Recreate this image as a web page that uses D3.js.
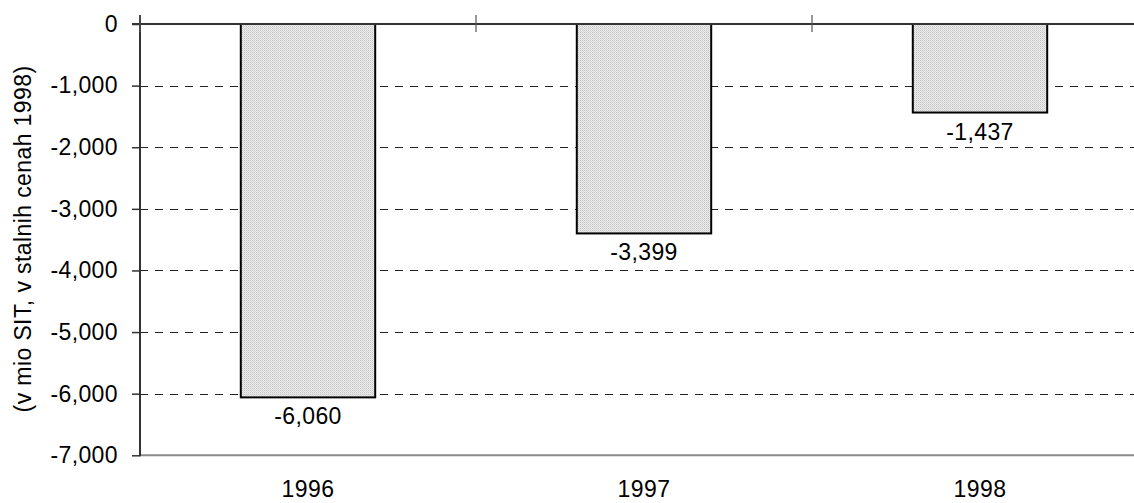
<!DOCTYPE html>
<html>
<head>
<meta charset="utf-8">
<script src="https://cdn.jsdelivr.net/npm/d3@7/dist/d3.min.js"></script>
<style>
  html, body { margin: 0; padding: 0; background: #fff; }
  svg { display: block; }
  text { font-family: "Liberation Sans", Arial, Helvetica, sans-serif; fill: #000; }
</style>
</head>
<body>
<svg id="chart" width="1134" height="503"></svg>
<script>
// ---- data ----
const categories = ["1996", "1997", "1998"];
const values = [-6060, -3399, -1437];
const valueLabels = ["-6,060", "-3,399", "-1,437"];
const yTicks = [0, -1000, -2000, -3000, -4000, -5000, -6000, -7000];
const yTitle = "(v mio SIT, v stalnih cenah 1998)";

// ---- layout ----
const W = 1134, H = 503;
const plotLeft = 140, plotRight = 1148, yTop = 24, yBottom = 455.3;
const fontSize = 23;

const svg = d3.select("#chart");

const defs = svg.append("defs");
const pat = defs.append("pattern")
  .attr("id", "stipple").attr("patternUnits", "userSpaceOnUse")
  .attr("width", 2).attr("height", 2);
pat.append("rect").attr("width", 2).attr("height", 2).attr("fill", "#ececec");
pat.append("rect").attr("x", 0).attr("y", 0).attr("width", 1).attr("height", 1).attr("fill", "#c4c4c4");
pat.append("rect").attr("x", 1).attr("y", 1).attr("width", 1).attr("height", 1).attr("fill", "#d6d6d6");

const x = d3.scaleBand().domain(categories).range([plotLeft, plotRight])
  .paddingInner(0.6).paddingOuter(0.3);
const y = d3.scaleLinear().domain([0, -7000]).range([yTop, yBottom]);

// gridlines (dashed)
svg.append("g").selectAll("line")
  .data(yTicks.filter(t => t !== 0 && t !== -7000))
  .join("line")
  .attr("x1", plotLeft).attr("x2", W)
  .attr("y1", d => Math.round(y(d)) + 0.5).attr("y2", d => Math.round(y(d)) + 0.5)
  .attr("stroke", "#222").attr("stroke-width", 1)
  .attr("stroke-dasharray", "8,7");

// bottom plot border
svg.append("line")
  .attr("x1", plotLeft).attr("x2", W)
  .attr("y1", y(-7000)).attr("y2", y(-7000))
  .attr("stroke", "#8a8a8a").attr("stroke-width", 2);

// bars
svg.append("g").selectAll("rect")
  .data(values)
  .join("rect")
  .attr("x", (d, i) => x(categories[i]))
  .attr("y", d => y(Math.max(0, d)))
  .attr("width", x.bandwidth())
  .attr("height", d => Math.abs(y(d) - y(0)))
  .attr("fill", "url(#stipple)")
  .attr("stroke", "#000").attr("stroke-width", 2);

// value labels
svg.append("g").selectAll("text")
  .data(values)
  .join("text")
  .attr("x", (d, i) => x(categories[i]) + x.bandwidth() / 2)
  .attr("y", d => y(d) + 27)
  .attr("text-anchor", "middle")
  .attr("font-size", fontSize)
  .attr("letter-spacing", 0.4)
  .text((d, i) => valueLabels[i]);

// y axis
const yAxis = d3.axisLeft(y).tickValues(yTicks).tickSize(8).tickPadding(14)
  .tickFormat(d3.format(",.0f"));
const gy = svg.append("g").attr("transform", `translate(${plotLeft},0)`).call(yAxis);
gy.select(".domain").remove();
gy.selectAll(".tick line").attr("stroke", "#333").attr("stroke-width", 1.5);
gy.selectAll(".tick text")
  .attr("font-size", fontSize)
  .attr("letter-spacing", 0.4)
  .attr("font-family", "Liberation Sans, Arial, sans-serif")
  .attr("fill", "#000")
  .text(d => d3.format(",.0f")(d).replace("−", "-"));
svg.append("line")
  .attr("x1", plotLeft).attr("x2", plotLeft)
  .attr("y1", 15).attr("y2", yBottom + 1)
  .attr("stroke", "#333").attr("stroke-width", 2);

// x axis at zero (top)
svg.append("line")
  .attr("x1", plotLeft - 8).attr("x2", W)
  .attr("y1", y(0)).attr("y2", y(0))
  .attr("stroke", "#333").attr("stroke-width", 2);
const boundaries = categories.map(c => x(c) - x.step() * x.paddingOuter()).concat([plotRight]);
svg.append("g").selectAll("line")
  .data(boundaries)
  .join("line")
  .attr("x1", d => d).attr("x2", d => d)
  .attr("y1", 15).attr("y2", 32)
  .attr("stroke", "#555").attr("stroke-width", 1.2);

// category labels at bottom
svg.append("g").selectAll("text")
  .data(categories)
  .join("text")
  .attr("x", d => x(d) + x.bandwidth() / 2)
  .attr("y", 497)
  .attr("text-anchor", "middle")
  .attr("font-size", fontSize)
  .attr("letter-spacing", 0.4)
  .text(d => d);

// y title
svg.append("text")
  .attr("transform", `translate(23,239) rotate(-90)`)
  .attr("text-anchor", "middle")
  .attr("dominant-baseline", "central")
  .attr("font-size", fontSize)
  .attr("letter-spacing", 0.4)
  .text(yTitle);
</script>
</body>
</html>
